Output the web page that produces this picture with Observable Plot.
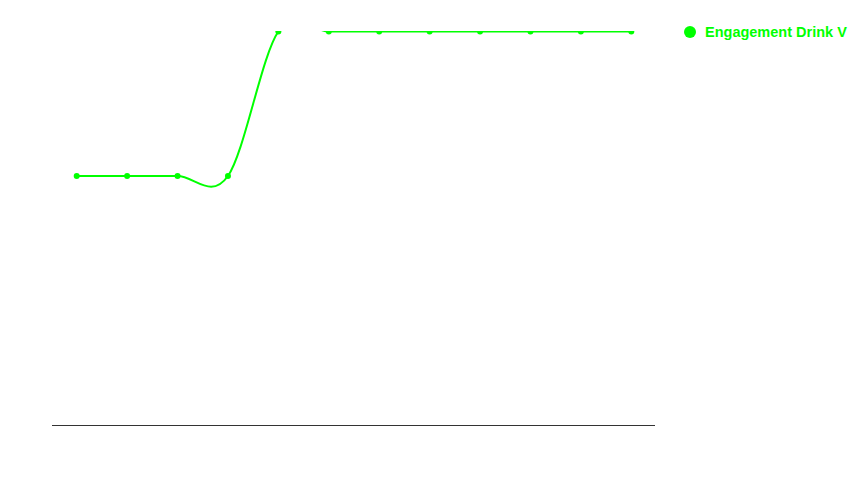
<!DOCTYPE html>
<html>
<head>
<meta charset="utf-8">
<script src="https://cdn.jsdelivr.net/npm/d3@7"></script>
<script src="https://cdn.jsdelivr.net/npm/@observablehq/plot@0.6"></script>
<style>
  html, body { margin: 0; padding: 0; background: #fff; }
  #wrap { position: relative; width: 858px; height: 484px; }
  #legend { position: absolute; left: 684px; top: 24px; display: flex; align-items: center;
    font-family: "Liberation Sans", Arial, sans-serif; font-weight: bold; font-size: 14.5px; color: #00ff00; }
  #legend .sw { width: 12px; height: 12px; border-radius: 50%; background: #00ff00; margin-right: 9px; }
</style>
</head>
<body>
<div id="wrap">
  <div id="legend"><span class="sw"></span><span>Engagement Drink V</span></div>
</div>
<script>
const seriesName = "Engagement Drink V";
const categories = ["1","2","3","4","5","6","7","8","9","10","11","12"];
const values = [19, 19, 19, 19, 30, 30, 30, 30, 30, 30, 30, 30];

const data = categories.map((c, i) => ({cat: c, value: values[i]}));

const chart = Plot.plot({
  width: 858,
  height: 484,
  marginLeft: 52,
  marginRight: 203,
  marginTop: 31,
  marginBottom: 59,
  x: {type: "point", domain: categories, padding: 0.48, round: false, axis: null},
  y: {domain: [0, 30], axis: null},
  marks: [
    Plot.ruleY([0], {stroke: "#333", strokeWidth: 1}),
    Plot.line(data, {x: "cat", y: "value", stroke: "#00ff00", strokeWidth: 2, curve: "cardinal", clip: "frame"}),
    Plot.dot(data, {x: "cat", y: "value", r: 3, fill: "#00ff00", stroke: "none", clip: "frame"})
  ]
});
chart.style.position = "absolute";
chart.style.left = "0";
chart.style.top = "0";
document.getElementById("wrap").prepend(chart);
</script>
</body>
</html>
